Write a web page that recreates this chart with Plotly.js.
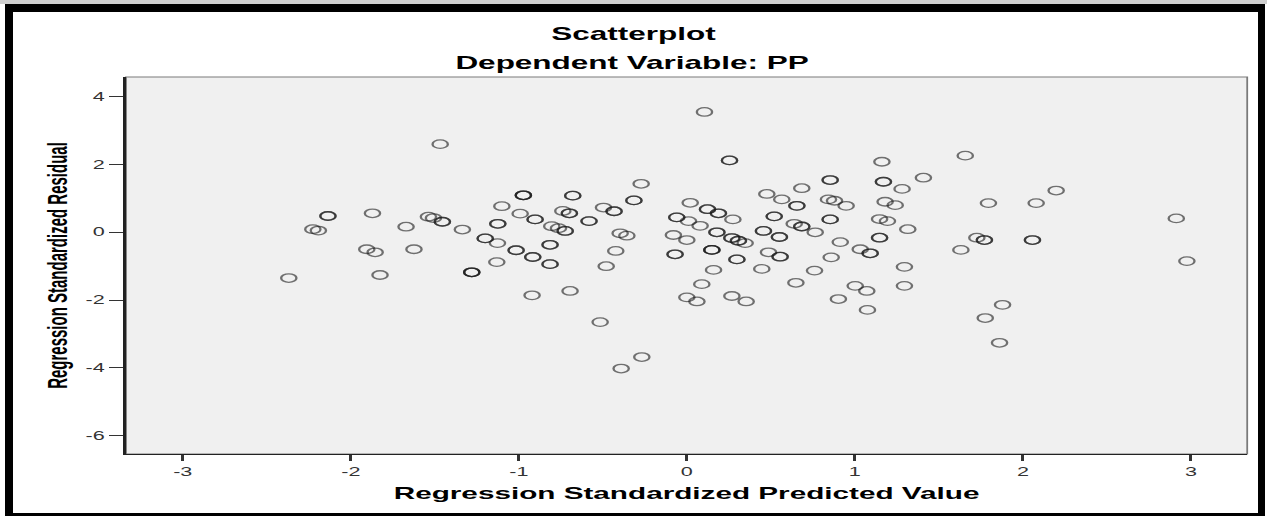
<!DOCTYPE html>
<html>
<head>
<meta charset="utf-8">
<script src="https://cdn.plot.ly/plotly-3.0.1.min.js"></script>
<style>
  html, body { margin:0; padding:0; background:#fff; }
  body { width:1267px; height:516px; overflow:hidden; position:relative; }
  #topstrip { position:absolute; left:0; top:0; width:1267px; height:4px; background:#cfcfcf; z-index:3; }
  #frame { position:absolute; left:5px; top:4px; width:1260px; height:517px; box-sizing:border-box;
           border-style:solid; border-color:#000; border-width:8px 7px 8px 8px; z-index:3; pointer-events:none; }
  #chart { position:absolute; left:0; top:0; width:704px; height:516px; transform-origin:0 0;
           transform:scaleX(1.79972); z-index:1; }
</style>
</head>
<body>
<div id="topstrip"></div>
<div id="chart"></div>
<div id="frame"></div>
<script>
// Regression Standardized Predicted Value (x), Regression Standardized Residual (y)
// caseCount = number of overlapping cases drawn at that point (darker rings)
const predicted = [
  -2.369, -2.226, -2.193, -2.136, -1.905, -1.855, -1.871, -1.826, -1.671, -1.624,
  -1.538, -1.508, -1.455, -1.468, -1.336, -1.280, -1.200, -1.127, -1.125, -1.131,
  -1.101, -1.016, -0.992, -0.973, -0.917, -0.921, -0.903, -0.814, -0.814, -0.804,
  -0.764, -0.724, -0.738, -0.699, -0.695, -0.679, -0.582, -0.516, -0.496, -0.480,
  -0.433, -0.423, -0.397, -0.357, -0.391, -0.315, -0.272, -0.268,
   0.105,  0.254,  0.853,  0.684,  0.476,  0.565,  0.655,  0.843,  0.879,  0.948,
   0.020,  0.123,  0.188, -0.060,  0.010,  0.079,  0.274,  0.520,  0.853,  0.639,
   0.684,  0.764, -0.080,  0.000,  0.179,  0.268,  0.307,  0.347,  0.456,  0.551,
   0.913, -0.070,  0.149,  0.298,  0.486,  0.555,  0.859,  0.159,  0.446,  0.760,
   0.089,  0.649,  0.000,  0.060,  0.268,  0.353,  0.902,
   1.161,  1.657,  1.170,  1.408,  1.281,  1.180,  1.240,  1.795,  2.079,  2.198,
   1.147,  1.194,  1.315,  1.147,  1.726,  1.771,  2.057,  1.032,  1.091,  1.631,
   1.295,  1.002,  1.071,  1.295,  1.075,  1.879,  1.776,  1.861,  2.913,  2.976
];
const residual = [
  -1.35,  0.09,  0.05,  0.48, -0.50, -0.59,  0.56, -1.26,  0.165, -0.50,
   0.46,  0.42,  0.31,  2.60,  0.08, -1.18, -0.18, -0.32,  0.25, -0.88,
   0.77, -0.53,  0.55,  1.09, -0.73, -1.86,  0.38, -0.37, -0.94,  0.18,
   0.12,  0.04,  0.63,  0.56, -1.73,  1.08,  0.33, -2.65,  0.73, -1.00,
   0.62, -0.55, -0.03, -0.10, -4.02,  0.94,  1.43, -3.68,
   3.55,  2.12,  1.54,  1.30,  1.13,  0.97,  0.78,  0.97,  0.93,  0.78,
   0.87,  0.68,  0.56,  0.44,  0.33,  0.19,  0.38,  0.47,  0.38,  0.25,
   0.17,  0.00, -0.08, -0.23,  0.00, -0.17, -0.25, -0.32,  0.04, -0.14,
  -0.29, -0.65, -0.52, -0.80, -0.59, -0.72, -0.74, -1.11, -1.08, -1.13,
  -1.53, -1.49, -1.92, -2.04, -1.88, -2.04, -1.97,
   2.08,  2.26,  1.49,  1.61,  1.28,  0.90,  0.80,  0.86,  0.86,  1.23,
   0.39,  0.33,  0.09, -0.16, -0.16, -0.23, -0.23, -0.50, -0.62, -0.52,
  -1.02, -1.58, -1.73, -1.58, -2.29, -2.14, -2.53, -3.26,  0.41, -0.85
];
const caseCount = [
  1,1,1,2,1,1,1,1,1,1,
  1,1,2,1,1,3,2,1,2,1,
  1,2,1,3,2,1,2,2,2,1,
  1,2,1,2,1,2,2,1,1,1,
  2,1,1,1,1,2,1,1,
  1,2,2,1,1,1,2,1,1,1,
  1,2,2,2,1,1,1,2,2,1,
  2,1,1,1,2,2,2,1,2,2,
  1,2,3,2,1,2,1,1,1,1,
  1,1,1,1,1,1,1,
  1,1,2,1,1,1,1,1,1,1,
  1,1,1,2,1,2,2,1,2,1,
  1,1,1,1,1,1,1,1,1,1
];
const xTicks = [-3, -2, -1, 0, 1, 2, 3];
const yTicks = [-6, -4, -2, 0, 2, 4];

const xs = [], ys = [];
predicted.forEach((v, i) => {
  for (let k = 0; k < caseCount[i]; k++) { xs.push(v); ys.push(residual[i]); }
});

const FONT = 'Liberation Sans, Arial, Helvetica, sans-serif';

const trace = {
  type: 'scatter', mode: 'markers', x: xs, y: ys,
  marker: { symbol: 'circle-open', size: 8.5, color: 'rgba(25,25,25,0.6)',
            line: { width: 1.3, color: 'rgba(25,25,25,0.6)' } },
  hoverinfo: 'skip', showlegend: false
};

const layout = {
  width: 704, height: 516,
  margin: { l: 70, r: 11, t: 77, b: 62 },
  paper_bgcolor: '#ffffff', plot_bgcolor: '#f0f0f0',
  font: { family: FONT, color: '#000' },
  title: { text: 'Scatterplot', font: { family: FONT, size: 17.5, weight: 700, color: '#000' },
           xref: 'container', x: 0.5, xanchor: 'center', yref: 'container', y: 1 - 34/516, yanchor: 'middle' },
  annotations: [{
    text: 'Dependent Variable: PP', showarrow: false,
    xref: 'paper', x: 0.4526, xanchor: 'center', yref: 'paper', y: 1.0371, yanchor: 'middle',
    font: { family: FONT, size: 17.5, weight: 700, color: '#000' }
  }],
  xaxis: {
    range: [-3.338, 3.335], tickvals: xTicks, ticktext: xTicks.map(String),
    ticks: 'outside', ticklen: 6, tickwidth: 1.6, tickcolor: '#333',
    showline: true, linecolor: '#222', linewidth: 1.4, mirror: false,
    showgrid: false, zeroline: false,
    tickfont: { family: FONT, size: 12, color: '#333' },
    title: { text: 'Regression Standardized Predicted Value', standoff: 9,
             font: { family: FONT, size: 16.5, weight: 700, color: '#000' } }
  },
  yaxis: {
    range: [-6.54, 4.58], tickvals: yTicks, ticktext: yTicks.map(String),
    ticks: 'outside', ticklen: 8, tickwidth: 1, tickcolor: '#333',
    showline: true, linecolor: '#222', linewidth: 1.4, mirror: false,
    showgrid: false, zeroline: false,
    tickfont: { family: FONT, size: 12, color: '#333' },
    title: { text: 'Regression Standardized Residual', standoff: 6,
             font: { family: FONT, size: 15, weight: 700, color: '#000' } }
  },
  shapes: [{
    type: 'rect', xref: 'paper', yref: 'paper', x0: 0, x1: 1, y0: 0, y1: 1,
    line: { color: '#7a7a7a', width: 1 }, layer: 'below'
  }]
};

Plotly.newPlot('chart', [trace], layout, { displayModeBar: false, staticPlot: true });
</script>
</body>
</html>
